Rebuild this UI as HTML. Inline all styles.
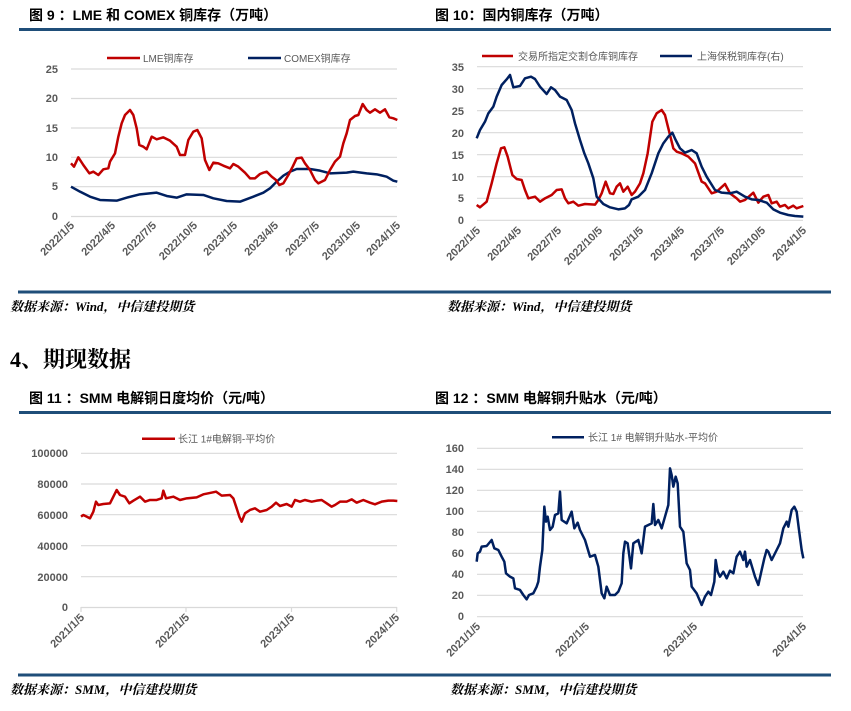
<!DOCTYPE html>
<html><head><meta charset="utf-8"><style>
html,body{margin:0;padding:0;background:#fff;}
svg{display:block;font-family:"Liberation Sans","Noto Sans CJK SC",sans-serif;}
.t{font-size:14px;font-weight:bold;fill:#000;}
.ax{font-size:11px;fill:#595959;font-weight:bold;}
.lg{font-size:10px;fill:#595959;}
.src{font-family:"Liberation Serif","Noto Serif CJK SC",serif;font-size:13px;font-weight:bold;font-style:italic;fill:#000;}
.g{stroke:#d9d9d9;stroke-width:1.2;}
.bar{stroke:#1f4e79;stroke-width:3;}
</style></head><body>
<svg width="851" height="711" viewBox="0 0 851 711">
<!-- Chart 9 -->
<text class="t" x="29" y="20">图 9 ：LME 和 COMEX 铜库存（万吨）</text>
<line class="bar" x1="19" y1="29.5" x2="425" y2="29.5"/>
<g class="g"><line x1="71" y1="69" x2="397" y2="69"/><line x1="71" y1="98.5" x2="397" y2="98.5"/><line x1="71" y1="128" x2="397" y2="128"/><line x1="71" y1="157.3" x2="397" y2="157.3"/><line x1="71" y1="186.7" x2="397" y2="186.7"/><line x1="71" y1="216.5" x2="397" y2="216.5"/></g>
<g class="ax" text-anchor="end"><text x="58" y="73">25</text><text x="58" y="102">20</text><text x="58" y="132">15</text><text x="58" y="161">10</text><text x="58" y="190">5</text><text x="58" y="220">0</text></g>
<line x1="107" y1="58" x2="140" y2="58" stroke="#c00000" stroke-width="2.5"/><text class="lg" x="143" y="62">LME铜库存</text>
<line x1="248" y1="58" x2="281" y2="58" stroke="#002060" stroke-width="2.5"/><text class="lg" x="284" y="62">COMEX铜库存</text>
<g class="ax" text-anchor="end" font-weight="normal">
<text transform="translate(75,226) rotate(-45)">2022/1/5</text>
<text transform="translate(116,226) rotate(-45)">2022/4/5</text>
<text transform="translate(157,226) rotate(-45)">2022/7/5</text>
<text transform="translate(198,226) rotate(-45)">2022/10/5</text>
<text transform="translate(238,226) rotate(-45)">2023/1/5</text>
<text transform="translate(279,226) rotate(-45)">2023/4/5</text>
<text transform="translate(320,226) rotate(-45)">2023/7/5</text>
<text transform="translate(361,226) rotate(-45)">2023/10/5</text>
<text transform="translate(401,226) rotate(-45)">2024/1/5</text>
</g>
<g transform="scale(0.33333)" fill="none" stroke-width="7.5" stroke-linejoin="round">
<polyline stroke="#002060" points="213,560 240,575 270,590 300,600 350,602 380,593 420,583 470,578 500,588 530,593 560,583 610,585 640,595 680,603 720,605 760,590 790,578 810,565 830,545 850,527 870,515 890,507 930,507 960,512 990,520 1040,518 1060,515 1100,520 1130,523 1160,530 1180,542 1192,545"/>
<polyline stroke="#c00000" points="213,490 222,500 235,472 250,495 268,520 280,515 295,525 310,508 325,505 330,485 345,460 355,410 365,370 375,345 390,330 400,345 410,385 418,435 430,440 440,448 455,410 470,418 490,412 510,422 530,440 540,465 555,465 565,420 580,395 592,390 605,415 615,480 628,510 640,488 655,490 670,497 690,505 700,492 715,500 735,518 750,535 765,535 780,522 790,518 800,515 815,530 828,540 838,555 850,550 865,525 878,500 890,475 905,473 915,490 930,510 945,540 955,550 975,540 990,510 1005,485 1020,470 1030,430 1040,400 1050,360 1065,348 1075,345 1088,312 1100,330 1110,338 1125,328 1140,338 1155,328 1168,352 1180,355 1192,360"/>
</g>
<line class="bar" x1="18" y1="292" x2="425" y2="292"/>
<text class="src" x="10" y="311">数据来源：Wind，中信建投期货</text>

<!-- Chart 10 -->
<text class="t" x="435" y="20">图 10：国内铜库存（万吨）</text>
<line class="bar" x1="425" y1="29.5" x2="831" y2="29.5"/>
<g class="g"><line x1="477" y1="66.7" x2="803" y2="66.7"/><line x1="477" y1="88.7" x2="803" y2="88.7"/><line x1="477" y1="110.7" x2="803" y2="110.7"/><line x1="477" y1="132.7" x2="803" y2="132.7"/><line x1="477" y1="154.7" x2="803" y2="154.7"/><line x1="477" y1="176.7" x2="803" y2="176.7"/><line x1="477" y1="198.3" x2="803" y2="198.3"/><line x1="477" y1="220.3" x2="803" y2="220.3"/></g>
<g class="ax" text-anchor="end"><text x="464" y="71">35</text><text x="464" y="93">30</text><text x="464" y="115">25</text><text x="464" y="137">20</text><text x="464" y="159">15</text><text x="464" y="181">10</text><text x="464" y="202">5</text><text x="464" y="224">0</text></g>
<line x1="482" y1="56" x2="513" y2="56" stroke="#c00000" stroke-width="2.5"/><text class="lg" x="518" y="60">交易所指定交割仓库铜库存</text>
<line x1="660" y1="56" x2="692" y2="56" stroke="#002060" stroke-width="2.5"/><text class="lg" x="697" y="60">上海保税铜库存(右)</text>
<g class="ax" text-anchor="end" font-weight="normal">
<text transform="translate(481,231) rotate(-45)">2022/1/5</text>
<text transform="translate(522,231) rotate(-45)">2022/4/5</text>
<text transform="translate(562,231) rotate(-45)">2022/7/5</text>
<text transform="translate(603,231) rotate(-45)">2022/10/5</text>
<text transform="translate(644,231) rotate(-45)">2023/1/5</text>
<text transform="translate(685,231) rotate(-45)">2023/4/5</text>
<text transform="translate(725,231) rotate(-45)">2023/7/5</text>
<text transform="translate(766,231) rotate(-45)">2023/10/5</text>
<text transform="translate(807,231) rotate(-45)">2024/1/5</text>
</g>
<g transform="translate(425,0) scale(0.33333)" fill="none" stroke-width="7.5" stroke-linejoin="round">
<polyline stroke="#c00000" points="155,615 165,622 185,605 200,550 215,490 228,445 238,442 248,470 262,525 275,537 290,540 300,570 310,595 330,590 345,605 360,595 380,585 395,570 410,568 420,595 430,610 445,605 460,617 480,612 510,614 520,600 530,580 542,545 555,580 565,582 575,560 585,550 595,575 608,560 620,585 630,575 645,550 655,520 668,460 682,365 695,340 710,330 720,345 730,385 745,445 755,455 770,460 790,470 800,480 810,490 830,545 840,550 850,565 860,580 875,575 900,552 915,580 935,595 945,605 960,600 985,578 1000,608 1015,590 1030,585 1040,610 1055,605 1065,620 1080,615 1090,625 1105,617 1115,625 1135,618"/>
<polyline stroke="#002060" points="155,415 165,390 180,365 190,340 205,320 215,290 230,255 245,238 255,225 265,262 285,258 300,235 318,230 330,237 345,260 365,282 378,262 390,270 405,290 425,300 440,330 450,370 465,420 478,460 490,490 505,535 515,590 535,612 555,622 580,628 600,625 612,615 620,598 640,590 660,570 670,545 680,520 690,490 700,460 715,430 730,410 742,398 752,420 765,445 780,458 800,450 815,460 830,500 845,530 870,570 890,578 915,580 935,575 960,590 980,598 1000,600 1025,608 1045,628 1065,638 1090,645 1110,648 1135,650"/>
</g>
<line class="bar" x1="425" y1="292" x2="831" y2="292"/>
<text class="src" x="447" y="311">数据来源：Wind，中信建投期货</text>

<!-- Section heading -->
<text x="10" y="367" font-family="'Liberation Serif','Noto Serif CJK SC',serif" font-size="22" font-weight="bold" fill="#000">4、期现数据</text>

<!-- Chart 11 -->
<text class="t" x="29" y="403">图 11 ：SMM 电解铜日度均价（元/吨）</text>
<line class="bar" x1="19" y1="412.5" x2="425" y2="412.5"/>
<g class="g"><line x1="81" y1="453.3" x2="397" y2="453.3"/><line x1="81" y1="484" x2="397" y2="484"/><line x1="81" y1="514.7" x2="397" y2="514.7"/><line x1="81" y1="545.7" x2="397" y2="545.7"/><line x1="81" y1="576.7" x2="397" y2="576.7"/><line x1="81" y1="607.5" x2="397" y2="607.5"/></g>
<g stroke="#d9d9d9" stroke-width="1.2"><line x1="81" y1="607" x2="81" y2="612"/><line x1="186" y1="607" x2="186" y2="612"/><line x1="291.5" y1="607" x2="291.5" y2="612"/><line x1="396.7" y1="607" x2="396.7" y2="612"/></g>
<g class="ax" text-anchor="end"><text x="68" y="457">100000</text><text x="68" y="488">80000</text><text x="68" y="519">60000</text><text x="68" y="550">40000</text><text x="68" y="581">20000</text><text x="68" y="611">0</text></g>
<line x1="142" y1="438.7" x2="175" y2="438.7" stroke="#c00000" stroke-width="2.5"/><text class="lg" x="178" y="442.5">长江 1#电解铜-平均价</text>
<g class="ax" text-anchor="end" font-weight="normal">
<text transform="translate(85,618) rotate(-45)">2021/1/5</text>
<text transform="translate(190,618) rotate(-45)">2022/1/5</text>
<text transform="translate(295,618) rotate(-45)">2023/1/5</text>
<text transform="translate(400,618) rotate(-45)">2024/1/5</text>
</g>
<g transform="translate(0,330) scale(0.33333)" fill="none" stroke-width="7.5" stroke-linejoin="round">
<polyline stroke="#c00000" points="243,560 250,555 260,560 270,565 280,545 288,515 295,525 310,522 330,520 340,500 350,480 360,495 375,500 388,520 400,512 420,500 435,515 450,510 470,510 485,505 490,482 498,505 520,500 540,510 560,505 590,502 610,493 625,490 648,485 665,497 690,495 700,505 710,535 718,560 725,575 735,550 750,540 765,535 780,545 800,540 815,530 828,518 840,528 860,522 875,530 885,510 900,515 915,510 935,515 950,512 965,510 980,520 995,530 1005,525 1020,515 1040,515 1055,508 1070,518 1090,510 1110,518 1125,523 1145,515 1165,512 1180,512 1192,513"/>
</g>
<line class="bar" x1="18" y1="675" x2="425" y2="675"/>
<text class="src" x="10" y="694">数据来源：SMM，中信建投期货</text>

<!-- Chart 12 -->
<text class="t" x="435" y="403">图 12 ：SMM 电解铜升贴水（元/吨）</text>
<line class="bar" x1="425" y1="412.5" x2="831" y2="412.5"/>
<g class="g"><line x1="477" y1="448.3" x2="803" y2="448.3"/><line x1="477" y1="469.3" x2="803" y2="469.3"/><line x1="477" y1="490.3" x2="803" y2="490.3"/><line x1="477" y1="511.3" x2="803" y2="511.3"/><line x1="477" y1="532.3" x2="803" y2="532.3"/><line x1="477" y1="553.3" x2="803" y2="553.3"/><line x1="477" y1="574.3" x2="803" y2="574.3"/><line x1="477" y1="595.3" x2="803" y2="595.3"/><line x1="477" y1="616.7" x2="803" y2="616.7"/></g>
<g class="ax" text-anchor="end"><text x="464" y="452">160</text><text x="464" y="473">140</text><text x="464" y="494">120</text><text x="464" y="515">100</text><text x="464" y="536">80</text><text x="464" y="557">60</text><text x="464" y="578">40</text><text x="464" y="599">20</text><text x="464" y="620">0</text></g>
<line x1="552" y1="437.3" x2="584" y2="437.3" stroke="#002060" stroke-width="2.5"/><text class="lg" x="588" y="441">长江 1# 电解铜升贴水-平均价</text>
<g class="ax" text-anchor="end" font-weight="normal">
<text transform="translate(481,627) rotate(-45)">2021/1/5</text>
<text transform="translate(590,627) rotate(-45)">2022/1/5</text>
<text transform="translate(698,627) rotate(-45)">2023/1/5</text>
<text transform="translate(807,627) rotate(-45)">2024/1/5</text>
</g>
<g transform="translate(425,330) scale(0.33333)" fill="none" stroke-width="7.5" stroke-linejoin="round">
<polyline stroke="#002060" points="155,695 158,670 165,665 170,650 185,648 200,630 208,655 220,660 230,680 238,695 243,730 255,740 265,745 270,775 285,780 295,795 305,808 312,795 325,790 335,770 340,755 345,710 352,660 358,530 363,575 368,560 375,600 383,590 390,555 400,550 405,485 410,570 425,580 440,545 448,595 458,578 465,600 480,630 495,680 510,675 520,710 530,790 538,805 545,770 555,795 570,795 580,785 590,760 595,670 600,635 608,640 618,715 625,640 640,630 650,670 660,590 680,580 685,522 690,585 700,570 710,595 720,560 730,525 735,415 740,435 745,470 752,440 758,460 765,590 775,605 785,700 795,720 800,770 815,790 830,825 840,800 850,785 858,795 868,755 872,690 878,725 885,740 895,725 905,745 915,722 925,730 935,680 945,665 955,690 960,665 965,710 975,690 990,740 1000,765 1010,720 1018,685 1025,660 1030,665 1040,690 1055,660 1065,640 1075,595 1085,575 1090,590 1100,540 1108,530 1115,545 1122,600 1130,660 1135,685"/>
</g>
<line class="bar" x1="425" y1="675" x2="831" y2="675"/>
<text class="src" x="450" y="694">数据来源：SMM，中信建投期货</text>
</svg>
</body></html>
